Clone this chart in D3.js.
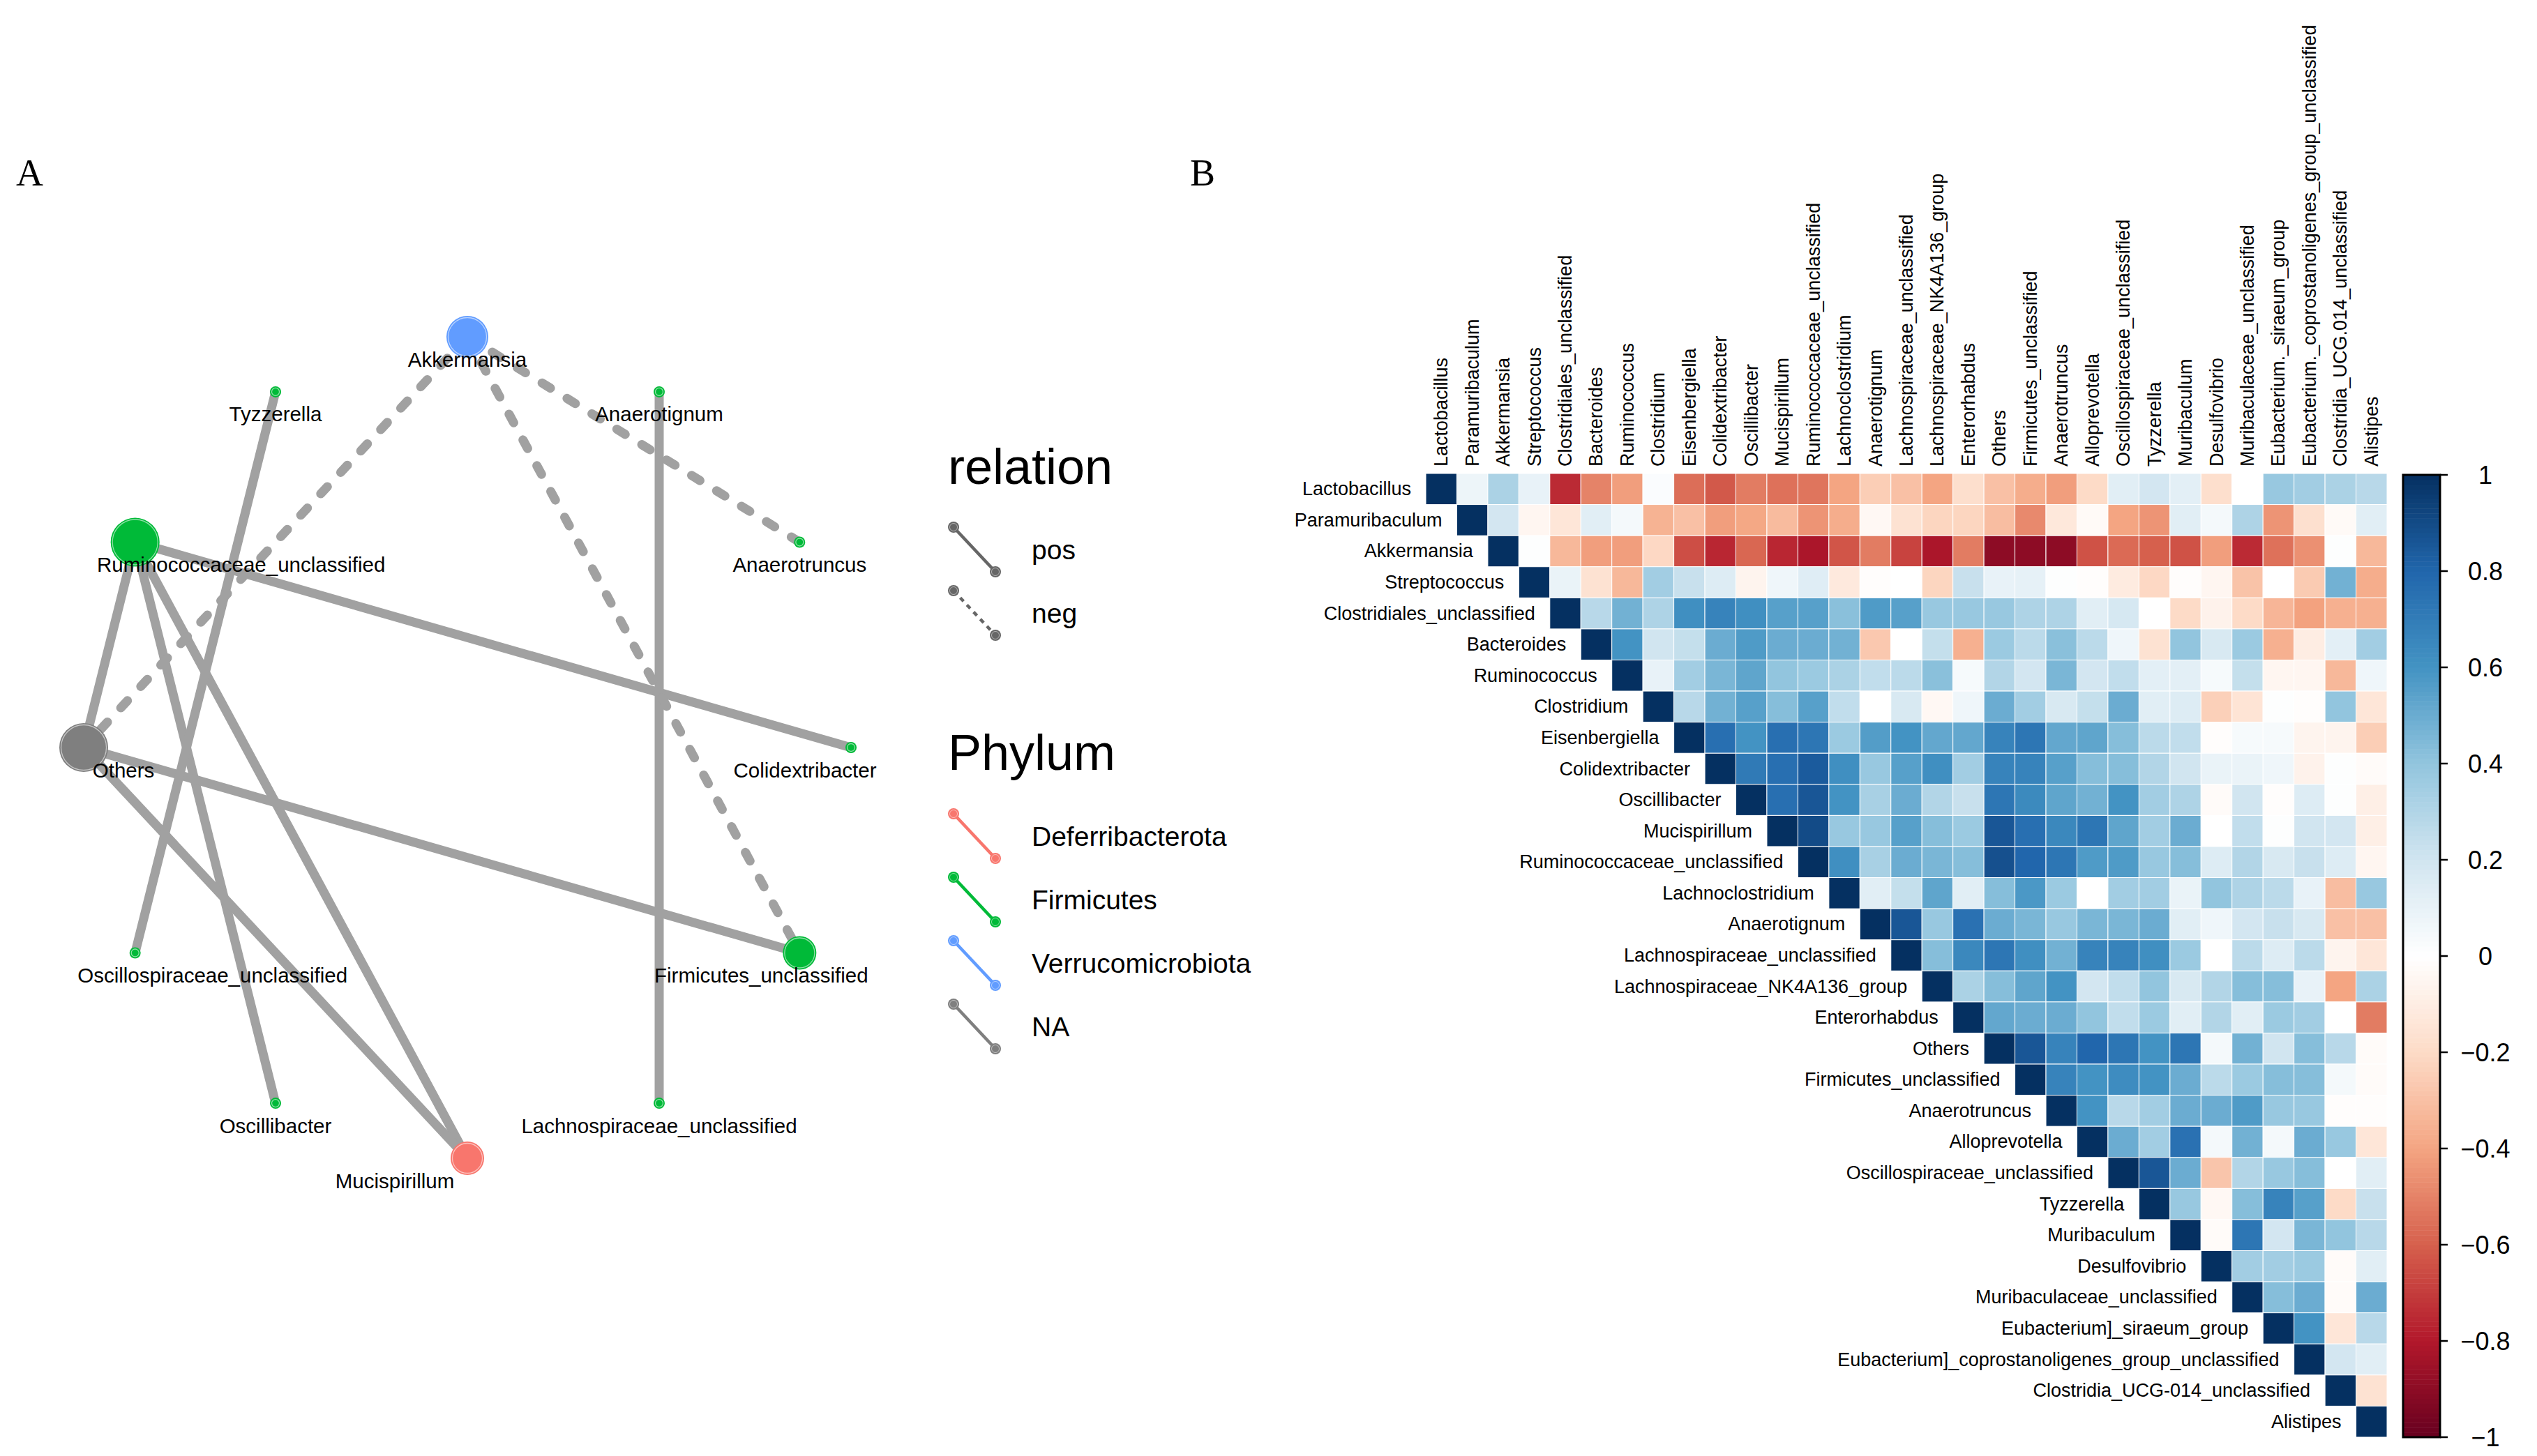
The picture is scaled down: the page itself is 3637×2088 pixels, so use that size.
<!DOCTYPE html>
<html>
<head>
<meta charset="utf-8">
<script src="https://cdnjs.cloudflare.com/ajax/libs/d3/7.8.5/d3.min.js"></script>
<style>
  body { margin: 0; background: #fff; }
  svg { display: block; }
  text { font-family: "Liberation Sans", Arial, Helvetica, sans-serif; fill: #000; }
</style>
</head>
<body>
<svg id="chart" width="3637" height="2088"></svg>
<script>
// ---- panel A data: network ----
const nodeNames = ['Akkermansia', 'Anaerotignum', 'Anaerotruncus', 'Colidextribacter',
  'Firmicutes_unclassified', 'Lachnospiraceae_unclassified', 'Mucispirillum', 'Oscillibacter',
  'Oscillospiraceae_unclassified', 'Others', 'Ruminococcaceae_unclassified', 'Tyzzerella'];
const nodePhylum = ['Verrucomicrobiota', 'Firmicutes', 'Firmicutes', 'Firmicutes',
  'Firmicutes', 'Firmicutes', 'Deferribacterota', 'Firmicutes',
  'Firmicutes', 'NA', 'Firmicutes', 'Firmicutes'];
const edgeFrom = ['Ruminococcaceae_unclassified', 'Ruminococcaceae_unclassified', 'Ruminococcaceae_unclassified',
  'Ruminococcaceae_unclassified', 'Others', 'Others', 'Tyzzerella', 'Anaerotignum',
  'Akkermansia', 'Akkermansia', 'Akkermansia'];
const edgeTo = ['Others', 'Oscillibacter', 'Mucispirillum', 'Colidextribacter', 'Mucispirillum',
  'Firmicutes_unclassified', 'Oscillospiraceae_unclassified', 'Lachnospiraceae_unclassified',
  'Others', 'Anaerotruncus', 'Firmicutes_unclassified'];
const edgeRelation = ['pos', 'pos', 'pos', 'pos', 'pos', 'pos', 'pos', 'pos', 'neg', 'neg', 'neg'];
const relationNames = ['pos', 'neg'];
const phylumNames = ['Deferribacterota', 'Firmicutes', 'Verrucomicrobiota', 'NA'];

// ---- panel B data: correlation matrix (upper triangle, each row starts at the diagonal) ----
const rowLabels = ['Lactobacillus', 'Paramuribaculum', 'Akkermansia', 'Streptococcus',
  'Clostridiales_unclassified', 'Bacteroides', 'Ruminococcus', 'Clostridium', 'Eisenbergiella',
  'Colidextribacter', 'Oscillibacter', 'Mucispirillum', 'Ruminococcaceae_unclassified',
  'Lachnoclostridium', 'Anaerotignum', 'Lachnospiraceae_unclassified', 'Lachnospiraceae_NK4A136_group',
  'Enterorhabdus', 'Others', 'Firmicutes_unclassified', 'Anaerotruncus', 'Alloprevotella',
  'Oscillospiraceae_unclassified', 'Tyzzerella', 'Muribaculum', 'Desulfovibrio',
  'Muribaculaceae_unclassified', 'Eubacterium]_siraeum_group',
  'Eubacterium]_coprostanoligenes_group_unclassified', 'Clostridia_UCG-014_unclassified', 'Alistipes'];
const colLabels = ['Lactobacillus', 'Paramuribaculum', 'Akkermansia', 'Streptococcus',
  'Clostridiales_unclassified', 'Bacteroides', 'Ruminococcus', 'Clostridium', 'Eisenbergiella',
  'Colidextribacter', 'Oscillibacter', 'Mucispirillum', 'Ruminococcaceae_unclassified',
  'Lachnoclostridium', 'Anaerotignum', 'Lachnospiraceae_unclassified', 'Lachnospiraceae_NK4A136_group',
  'Enterorhabdus', 'Others', 'Firmicutes_unclassified', 'Anaerotruncus', 'Alloprevotella',
  'Oscillospiraceae_unclassified', 'Tyzzerella', 'Muribaculum', 'Desulfovibrio',
  'Muribaculaceae_unclassified', 'Eubacterium._siraeum_group',
  'Eubacterium._coprostanoligenes_group_unclassified', 'Clostridia_UCG.014_unclassified', 'Alistipes'];
const corrRows = [
  [1, 0.08, 0.32, 0.1, -0.75, -0.5, -0.42, 0.02, -0.56, -0.62, -0.52, -0.55, -0.54, -0.4, -0.25, -0.3, -0.4, -0.18, -0.3, -0.37, -0.42, -0.2, 0.13, 0.19, 0.12, -0.18, 0, 0.38, 0.35, 0.32, 0.28],
  [1, 0.19, -0.05, -0.14, 0.13, 0.05, -0.35, -0.3, -0.42, -0.39, -0.32, -0.45, -0.37, -0.04, -0.16, -0.22, -0.22, -0.31, -0.48, -0.13, -0.03, -0.4, -0.45, 0.13, 0.05, 0.31, -0.45, -0.17, -0.03, 0.13],
  [1, 0.01, -0.33, -0.42, -0.42, -0.21, -0.65, -0.76, -0.58, -0.76, -0.82, -0.63, -0.52, -0.68, -0.82, -0.52, -0.9, -0.9, -0.9, -0.64, -0.57, -0.6, -0.64, -0.42, -0.75, -0.55, -0.46, 0.01, -0.33],
  [1, 0.09, -0.16, -0.33, 0.35, 0.23, 0.15, -0.06, 0.07, 0.14, -0.12, -0.01, 0, -0.22, 0.23, 0.1, 0.11, 0.01, -0.01, -0.11, -0.21, -0.01, -0.05, -0.29, 0, -0.26, 0.48, -0.37],
  [1, 0.28, 0.48, 0.31, 0.62, 0.67, 0.62, 0.55, 0.55, 0.42, 0.57, 0.55, 0.38, 0.38, 0.38, 0.31, 0.31, 0.13, 0.18, 0, -0.2, -0.07, -0.2, -0.34, -0.41, -0.36, -0.36],
  [1, 0.6, 0.2, 0.24, 0.5, 0.57, 0.5, 0.5, 0.48, -0.27, 0, 0.24, -0.36, 0.37, 0.27, 0.42, 0.27, 0.07, -0.16, 0.4, 0.17, 0.37, -0.36, -0.1, 0.12, 0.35],
  [1, 0.1, 0.35, 0.46, 0.53, 0.4, 0.37, 0.32, 0.25, 0.27, 0.42, 0.04, 0.3, 0.19, 0.46, 0.19, 0.25, 0.12, 0.12, 0.04, 0.24, -0.05, -0.05, -0.33, 0.07],
  [1, 0.28, 0.48, 0.55, 0.43, 0.55, 0.25, 0, 0.17, -0.04, 0.07, 0.5, 0.35, 0.17, 0.24, 0.5, 0.13, 0.15, -0.24, -0.15, 0.01, -0.01, 0.4, -0.14],
  [1, 0.76, 0.6, 0.76, 0.73, 0.37, 0.56, 0.6, 0.52, 0.52, 0.67, 0.73, 0.52, 0.53, 0.43, 0.27, 0.25, -0.01, 0.04, 0.04, -0.06, -0.06, -0.25],
  [1, 0.71, 0.76, 0.84, 0.62, 0.38, 0.55, 0.62, 0.35, 0.67, 0.67, 0.55, 0.43, 0.43, 0.3, 0.2, 0.09, 0.09, 0.07, -0.07, 0.01, -0.02],
  [1, 0.76, 0.86, 0.6, 0.33, 0.5, 0.3, 0.23, 0.73, 0.64, 0.53, 0.48, 0.6, 0.35, 0.31, -0.02, 0.2, -0.01, 0.15, 0.01, -0.09],
  [1, 0.9, 0.38, 0.38, 0.55, 0.43, 0.37, 0.86, 0.76, 0.65, 0.73, 0.53, 0.35, 0.5, 0, 0.25, 0.01, 0.2, 0.19, -0.09],
  [1, 0.62, 0.33, 0.5, 0.46, 0.43, 0.88, 0.8, 0.73, 0.57, 0.57, 0.38, 0.43, 0.15, 0.3, 0.17, 0.23, 0.15, -0.05],
  [1, 0.13, 0.24, 0.53, 0.13, 0.43, 0.58, 0.37, 0, 0.35, 0.35, 0.09, 0.4, 0.31, 0.27, 0.1, -0.31, 0.38],
  [1, 0.86, 0.38, 0.75, 0.5, 0.46, 0.38, 0.46, 0.46, 0.5, 0.13, 0.07, 0.19, 0.23, 0.17, -0.3, -0.3],
  [1, 0.43, 0.65, 0.73, 0.62, 0.48, 0.67, 0.67, 0.62, 0.37, 0, 0.27, 0.15, 0.27, -0.06, -0.14],
  [1, 0.32, 0.43, 0.53, 0.6, 0.19, 0.25, 0.4, 0.17, 0.3, 0.43, 0.43, 0.1, -0.4, 0.32],
  [1, 0.52, 0.5, 0.5, 0.4, 0.25, 0.37, 0.13, 0.3, 0.13, 0.37, 0.35, 0, -0.52],
  [1, 0.86, 0.67, 0.8, 0.73, 0.6, 0.73, 0.05, 0.48, 0.2, 0.43, 0.28, -0.02],
  [1, 0.67, 0.6, 0.63, 0.6, 0.5, 0.27, 0.37, 0.43, 0.43, 0.05, -0.02],
  [1, 0.6, 0.28, 0.35, 0.5, 0.5, 0.57, 0.38, 0.38, -0.01, -0.01],
  [1, 0.5, 0.35, 0.75, 0.05, 0.48, 0.05, 0.5, 0.38, -0.14],
  [1, 0.86, 0.5, -0.28, 0.3, 0.38, 0.43, 0, 0.13],
  [1, 0.38, -0.04, 0.43, 0.67, 0.55, -0.2, 0.23],
  [1, -0.02, 0.73, 0.19, 0.46, 0.4, 0.28],
  [1, 0.35, 0.35, 0.37, -0.02, 0.13],
  [1, 0.43, 0.5, -0.02, 0.5],
  [1, 0.6, -0.14, 0.28],
  [1, 0.19, 0.13],
  [1, -0.16],
  [1]
];
const colorTicks = [-1, -0.8, -0.6, -0.4, -0.2, 0, 0.2, 0.4, 0.6, 0.8, 1];
const corrColors = ['#67001F', '#B2182B', '#D6604D', '#F4A582', '#FDDBC7', '#FFFFFF',
  '#D1E5F0', '#92C5DE', '#4393C3', '#2166AC', '#053061'];

const svg = d3.select('#chart');

// panel letters
svg.append('text').attr('x', 23).attr('y', 266).text('A')
  .style('font-family', '"Liberation Serif", "Times New Roman", serif').style('font-size', '54px');
svg.append('text').attr('x', 1706).attr('y', 266).text('B')
  .style('font-family', '"Liberation Serif", "Times New Roman", serif').style('font-size', '54px');

// ================= A: network =================
const phylumColor = d3.scaleOrdinal().domain(phylumNames)
  .range(['#F8766D', '#00BA38', '#619CFF', '#7F7F7F']);

// circular layout, first node on top, going clockwise
const angle = d3.scaleLinear().domain([0, nodeNames.length]).range([Math.PI / 2, Math.PI / 2 - 2 * Math.PI]);
const netX = d3.scaleLinear().domain([-1, 1]).range([120, 1220]);
const netY = d3.scaleLinear().domain([-1, 1]).range([1661, 483]);

let nodes = nodeNames.map((name, i) => ({
  name: name,
  phylum: nodePhylum[i],
  x: netX(Math.cos(angle(i))),
  y: netY(Math.sin(angle(i))),
  degree: 0
}));
let byName = {};
nodes.forEach(n => { byName[n.name] = n; });

let edges = edgeFrom.map((f, i) => ({ source: byName[f], target: byName[edgeTo[i]], relation: edgeRelation[i] }));
edges.forEach(e => { e.source.degree++; e.target.degree++; });

const nodeRadius = d3.scaleOrdinal().domain([1, 2, 3, 4]).range([8, 24, 30, 35]);

svg.append('g').selectAll('line').data(edges).enter().append('line')
  .attr('x1', d => d.source.x).attr('y1', d => d.source.y)
  .attr('x2', d => d.target.x).attr('y2', d => d.target.y)
  .attr('stroke', '#a1a1a1')
  .attr('stroke-width', 13)
  .attr('stroke-linecap', 'round')
  .attr('stroke-dasharray', d => d.relation === 'neg' ? '14,28' : null);

let nodeG = svg.append('g').selectAll('g').data(nodes).enter().append('g')
  .attr('transform', d => `translate(${d.x},${d.y})`);
nodeG.append('circle')
  .attr('r', d => nodeRadius(d.degree))
  .attr('fill', d => phylumColor(d.phylum));
nodeG.append('circle')
  .attr('r', d => nodeRadius(d.degree) - 2.5)
  .attr('fill', 'none')
  .attr('stroke', '#fff')
  .attr('stroke-opacity', 0.55)
  .attr('stroke-width', 1.3);

// labels pushed sideways where they would run off the panel
const labelNudge = {
  'Ruminococcaceae_unclassified': 152, 'Others': 57, 'Oscillospiraceae_unclassified': 111,
  'Firmicutes_unclassified': -55, 'Colidextribacter': -66, 'Mucispirillum': -104
};
svg.append('g').selectAll('text').data(nodes).enter().append('text')
  .attr('x', d => d.x + (labelNudge[d.name] || 0))
  .attr('y', d => d.y + 32)
  .attr('text-anchor', 'middle')
  .attr('dominant-baseline', 'central')
  .style('font-size', '29.5px')
  .text(d => d.name);

// legend
function legendKey(g, cy, color, dashed) {
  g.append('line')
    .attr('x1', 1367).attr('y1', cy - 32).attr('x2', 1427).attr('y2', cy + 32)
    .attr('stroke', color).attr('stroke-width', 4.5)
    .attr('stroke-dasharray', dashed ? '7,7' : null);
  [[1367, cy - 32], [1427, cy + 32]].forEach(p => {
    g.append('circle').attr('cx', p[0]).attr('cy', p[1]).attr('r', 8).attr('fill', color);
    g.append('circle').attr('cx', p[0]).attr('cy', p[1]).attr('r', 5.5)
      .attr('fill', 'none').attr('stroke', '#fff').attr('stroke-opacity', 0.5).attr('stroke-width', 1);
  });
}
let legend = svg.append('g');
legend.append('text').attr('x', 1359).attr('y', 694).style('font-size', '72px').text('relation');
relationNames.forEach((r, i) => {
  const cy = 788 + i * 91;
  legendKey(legend, cy, '#666666', r === 'neg');
  legend.append('text').attr('x', 1479).attr('y', cy).attr('dominant-baseline', 'central')
    .style('font-size', '39px').text(r);
});
legend.append('text').attr('x', 1359).attr('y', 1104).style('font-size', '72px').text('Phylum');
phylumNames.forEach((p, i) => {
  const cy = 1199 + i * 91;
  legendKey(legend, cy, phylumColor(p), false);
  legend.append('text').attr('x', 1479).attr('y', cy).attr('dominant-baseline', 'central')
    .style('font-size', '39px').text(p);
});

// ================= B: correlation heatmap =================
const corrColor = d3.scaleLinear().domain(colorTicks).range(corrColors).interpolate(d3.interpolateRgb);
const xBand = d3.scaleBand().domain(d3.range(colLabels.length)).range([2044, 3422]);
const yBand = d3.scaleBand().domain(d3.range(rowLabels.length)).range([679, 2061]);

let cells = [];
corrRows.forEach((row, i) => {
  row.forEach((v, k) => cells.push({ row: i, col: i + k, value: v }));
});

svg.append('g').selectAll('rect').data(cells).enter().append('rect')
  .attr('x', d => xBand(d.col))
  .attr('y', d => yBand(d.row))
  .attr('width', xBand.bandwidth())
  .attr('height', yBand.bandwidth())
  .attr('fill', d => corrColor(d.value))
  .attr('stroke', '#fff')
  .attr('stroke-width', 1);

svg.append('g').selectAll('text').data(rowLabels).enter().append('text')
  .attr('x', (d, i) => xBand(i) - 21)
  .attr('y', (d, i) => yBand(i) + yBand.bandwidth() / 2)
  .attr('text-anchor', 'end')
  .attr('dominant-baseline', 'central')
  .style('font-size', '27px')
  .text(d => d);

svg.append('g').selectAll('text').data(colLabels).enter().append('text')
  .attr('transform', (d, i) => `translate(${xBand(i) + xBand.bandwidth() / 2},669) rotate(-90)`)
  .attr('text-anchor', 'start')
  .attr('dominant-baseline', 'central')
  .style('font-size', '27px')
  .text(d => d);

// colour bar
const barY = d3.scaleLinear().domain([-1, 1]).range([2061, 681]);
const barSteps = d3.range(200).map(i => -1 + i * 0.01);
let bar = svg.append('g');
bar.selectAll('rect').data(barSteps).enter().append('rect')
  .attr('x', 3445).attr('width', 53)
  .attr('y', d => barY(d + 0.01))
  .attr('height', d => barY(d) - barY(d + 0.01) + 0.5)
  .attr('fill', d => corrColor(d + 0.005));
bar.append('rect').attr('x', 3445).attr('y', 681).attr('width', 53).attr('height', 1380)
  .attr('fill', 'none').attr('stroke', '#000').attr('stroke-width', 3);
bar.selectAll('line').data(colorTicks).enter().append('line')
  .attr('x1', 3498).attr('x2', 3509)
  .attr('y1', d => barY(d)).attr('y2', d => barY(d))
  .attr('stroke', '#000').attr('stroke-width', 2.5);
bar.selectAll('text').data(colorTicks).enter().append('text')
  .attr('x', 3563).attr('y', d => barY(d))
  .attr('text-anchor', 'middle')
  .attr('dominant-baseline', 'central')
  .style('font-size', '36px')
  .text(d => d3.format('~g')(d));
</script>
</body>
</html>
